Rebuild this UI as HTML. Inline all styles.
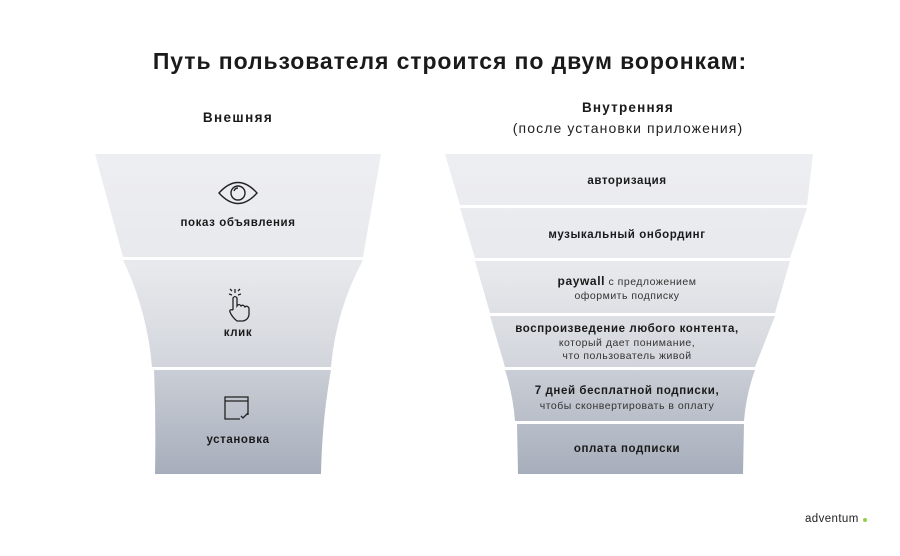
<!DOCTYPE html>
<html><head><meta charset="utf-8"><style>
body{margin:0;background:#fff;}
svg{display:block;font-family:"Liberation Sans","Noto Sans CJK SC",sans-serif;}
.b{font-weight:bold;fill:#1a1a1a;letter-spacing:0.6px;}
.n{fill:#333;letter-spacing:0.5px;}
</style></head><body>
<svg width="900" height="556" viewBox="0 0 900 556">
<defs>
<linearGradient id="g" gradientUnits="userSpaceOnUse" x1="0" y1="154" x2="0" y2="474">
<stop offset="0" stop-color="#edeef1"/>
<stop offset="0.35" stop-color="#e8e9ed"/>
<stop offset="0.66" stop-color="#d2d6dc"/>
<stop offset="0.68" stop-color="#c9cdd5"/>
<stop offset="1" stop-color="#a7aebb"/>
</linearGradient>
</defs>
<text x="450" y="69" text-anchor="middle" class="b" font-size="23" style="letter-spacing:0.9px">Путь пользователя строится по двум воронкам:</text>
<text x="238" y="122" text-anchor="middle" class="b" font-size="13.5" style="letter-spacing:1.4px">Внешняя</text>
<text x="628" y="112" text-anchor="middle" class="b" font-size="13.5" style="letter-spacing:1.2px">Внутренняя</text>
<text x="628" y="133" text-anchor="middle" font-size="14" fill="#222" style="letter-spacing:1.1px">(после установки приложения)</text>

<g fill="url(#g)">
<path d="M95 154 L381 154 L363 257 L123 257 Z"/>
<path d="M123 260 L363 260 Q336 310 331 367 L152 367 Q147 310 123 260 Z"/>
<path d="M154 370 L331 370 Q322 420 321 474 L155 474 Q156 420 154 370 Z"/>
<path d="M445 154 L813 154 L807 205 L460 205 Z"/>
<path d="M460 208 L807 208 L790 258 L475 258 Z"/>
<path d="M475 261 L790 261 L775 313 L490 313 Z"/>
<path d="M490 316 L775 316 L755 367 L505 367 Z"/>
<path d="M505 370 L755 370 Q746 395 744 421 L515 421 Q513 395 505 370 Z"/>
<path d="M517 424 L744 424 L743 474 L518 474 Z"/>
</g>

<g fill="none" stroke="#222" stroke-width="1.4">
<path d="M219 193 Q238 172 257 193 Q238 214 219 193 Z"/>
<circle cx="238" cy="193" r="7"/>
<path d="M234 191 Q235 188 238 188"/>
</g>
<text x="238" y="226" text-anchor="middle" class="b" font-size="11.5">показ объявления</text>
<g fill="none" stroke="#222" stroke-width="1.3">
<path d="M233 310 L233 298 Q235 295 237 298 L237 306 Q239 303 241 306 Q243 304 245 307 Q247 305 249 308 L249 315 Q248 320 243 321 L237 321 Q232 317 230 312 Q229 309 233 310"/>
<path d="M235 289 L235 293 M229 294 L232 295 M241 294 L238 295 M230 289 L232 291 M240 289 L238 291"/>
</g>
<text x="238" y="336" text-anchor="middle" class="b" font-size="11.5">клик</text>
<g fill="none" stroke="#222" stroke-width="1.3">
<path d="M248 415 L248 397 L225 397 L225 419 L240 419"/>
<path d="M225 401 L248 401"/>
<path d="M241 416 L243 418 L248 413"/>
</g>
<text x="238" y="443" text-anchor="middle" class="b" font-size="11.5">установка</text>

<text x="627" y="184" text-anchor="middle" class="b" font-size="11.5">авторизация</text>
<text x="627" y="238" text-anchor="middle" class="b" font-size="11.5">музыкальный онбординг</text>
<text x="627" y="285" text-anchor="middle" font-size="10.5" class="n"><tspan class="b" font-size="12">paywall</tspan> с предложением</text>
<text x="627" y="299" text-anchor="middle" font-size="10.5" class="n">оформить подписку</text>
<text x="627" y="332" text-anchor="middle" class="b" font-size="11.5">воспроизведение любого контента,</text>
<text x="627" y="346" text-anchor="middle" font-size="10.5" class="n">который дает понимание,</text>
<text x="627" y="359" text-anchor="middle" font-size="10.5" class="n">что пользователь живой</text>
<text x="627" y="394" text-anchor="middle" class="b" font-size="11.5">7 дней бесплатной подписки,</text>
<text x="627" y="409" text-anchor="middle" font-size="10.5" class="n">чтобы сконвертировать в оплату</text>
<text x="627" y="452" text-anchor="middle" class="b" font-size="11.5">оплата подписки</text>

<text x="805" y="522" font-size="11.5" fill="#222" style="letter-spacing:0.4px">adventum</text>
<circle cx="865" cy="520" r="2" fill="#8fd14f"/>
</svg>
</body></html>
